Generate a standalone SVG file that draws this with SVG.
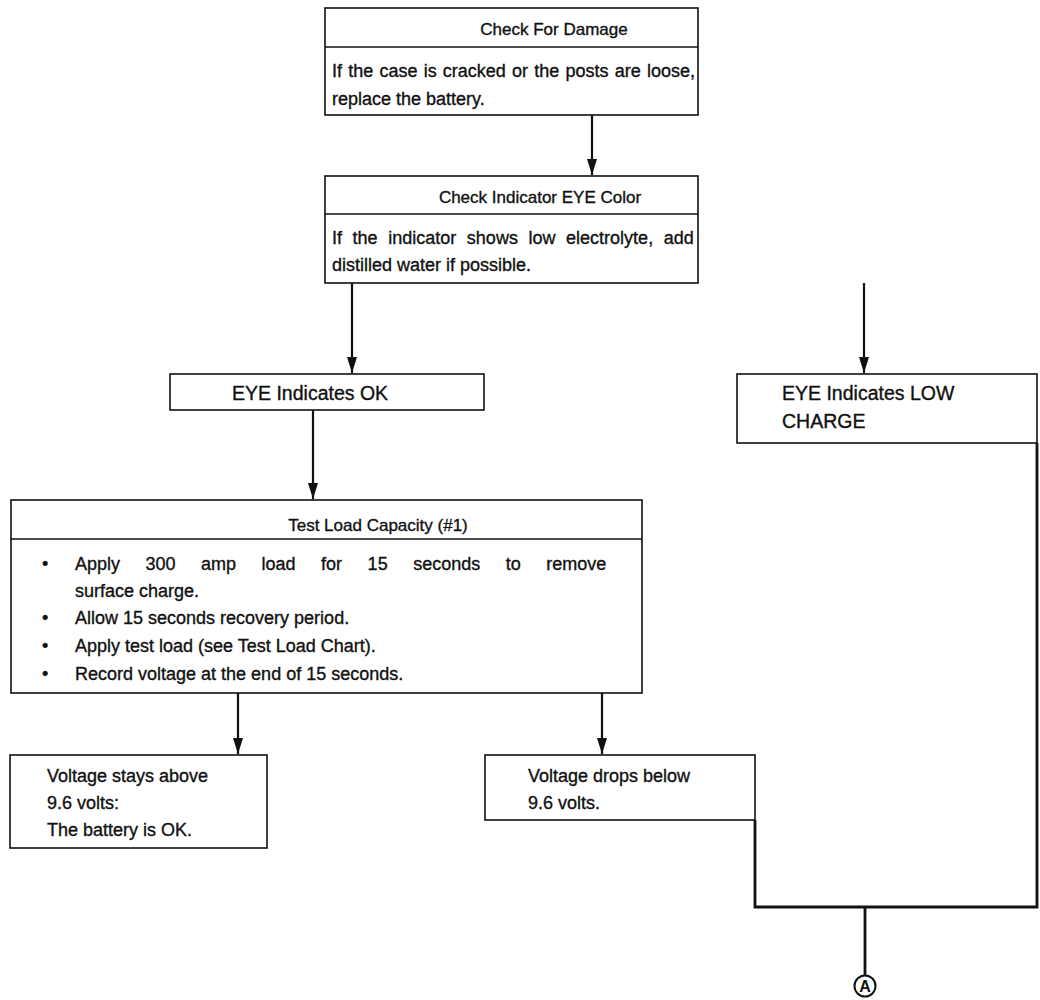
<svg xmlns="http://www.w3.org/2000/svg" width="1040" height="1000" viewBox="0 0 1040 1000">
<style>
.box{fill:#fff;stroke:#111;stroke-width:1.6}
.sep{stroke:#111;stroke-width:1.6}
.t{font-family:"Liberation Sans",Arial,sans-serif;font-size:18px;fill:#111;stroke:#111;stroke-width:0.35}
.h{font-size:17px}
.e{font-size:19.5px}
.c{text-anchor:middle}
.ln{fill:none;stroke:#111;stroke-width:2.2}
.br{fill:none;stroke:#111;stroke-width:2.8}
</style>
<defs>
<marker id="ah" viewBox="0 0 16 10" refX="16" refY="5" markerWidth="16" markerHeight="10" markerUnits="userSpaceOnUse" orient="auto">
<path d="M0,0 L16,5 L0,10 Z" fill="#111"/>
</marker>
</defs>
<rect width="1040" height="1000" fill="#fff"/>

<g id="connectors">
<line class="ln" x1="592" y1="115" x2="592" y2="175" marker-end="url(#ah)"/>
<line class="ln" x1="352" y1="283" x2="352" y2="373" marker-end="url(#ah)"/>
<line class="ln" x1="864" y1="283" x2="864" y2="373" marker-end="url(#ah)"/>
<line class="ln" x1="313" y1="410" x2="313" y2="499" marker-end="url(#ah)"/>
<line class="ln" x1="238" y1="693" x2="238" y2="754" marker-end="url(#ah)"/>
<line class="ln" x1="602" y1="693" x2="602" y2="754" marker-end="url(#ah)"/>
<polyline class="br" points="755,820 755,907 1037,907 1037,443"/>
<line class="br" x1="865" y1="907" x2="865" y2="975"/>
</g>

<g id="check-damage">
<rect class="box" x="325" y="8" width="373" height="107"/>
<line class="sep" x1="325" y1="47" x2="698" y2="47"/>
<text class="t h c" x="554" y="35">Check For Damage</text>
<text class="t" x="332" y="77" word-spacing="1.2">If the case is cracked or the posts are loose,</text>
<text class="t" x="332" y="105">replace the battery.</text>
</g>

<g id="check-eye">
<rect class="box" x="325" y="176" width="373" height="107"/>
<line class="sep" x1="325" y1="214" x2="698" y2="214"/>
<text class="t h c" x="540" y="203">Check Indicator EYE Color</text>
<text class="t" x="332" y="244" word-spacing="5.6">If the indicator shows low electrolyte, add</text>
<text class="t" x="332" y="271">distilled water if possible.</text>
</g>

<g id="eye-ok">
<rect class="box" x="170" y="374" width="314" height="36"/>
<text class="t e" x="232" y="400">EYE Indicates OK</text>
</g>

<g id="eye-low">
<rect class="box" x="737" y="374" width="300" height="69"/>
<text class="t e" x="782" y="400">EYE Indicates LOW</text>
<text class="t e" x="782" y="428">CHARGE</text>
</g>

<g id="test-load">
<rect class="box" x="11" y="500" width="631" height="193"/>
<line class="sep" x1="11" y1="539" x2="642" y2="539"/>
<text class="t h c" x="378" y="531">Test Load Capacity (#1)</text>
<text class="t" x="42" y="570">•</text>
<text class="t" x="75" y="570" word-spacing="20.5">Apply 300 amp load for 15 seconds to remove</text>
<text class="t" x="75" y="597">surface charge.</text>
<text class="t" x="42" y="624">•</text>
<text class="t" x="75" y="624">Allow 15 seconds recovery period.</text>
<text class="t" x="42" y="652">•</text>
<text class="t" x="75" y="652">Apply test load (see Test Load Chart).</text>
<text class="t" x="42" y="680">•</text>
<text class="t" x="75" y="680">Record voltage at the end of 15 seconds.</text>
</g>

<g id="volt-above">
<rect class="box" x="10" y="755" width="257" height="93"/>
<text class="t" x="47" y="782">Voltage stays above</text>
<text class="t" x="47" y="809">9.6 volts:</text>
<text class="t" x="47" y="836">The battery is OK.</text>
</g>

<g id="volt-below">
<rect class="box" x="485" y="755" width="270" height="65"/>
<text class="t" x="528" y="782">Voltage drops below</text>
<text class="t" x="528" y="809">9.6 volts.</text>
</g>

<g id="ref-a">
<circle cx="865" cy="986" r="10.5" fill="#fff" stroke="#111" stroke-width="2"/>
<text x="865" y="992" text-anchor="middle" font-family="Liberation Sans,Arial,sans-serif" font-size="16" font-weight="bold" fill="#111">A</text>
</g>
</svg>
